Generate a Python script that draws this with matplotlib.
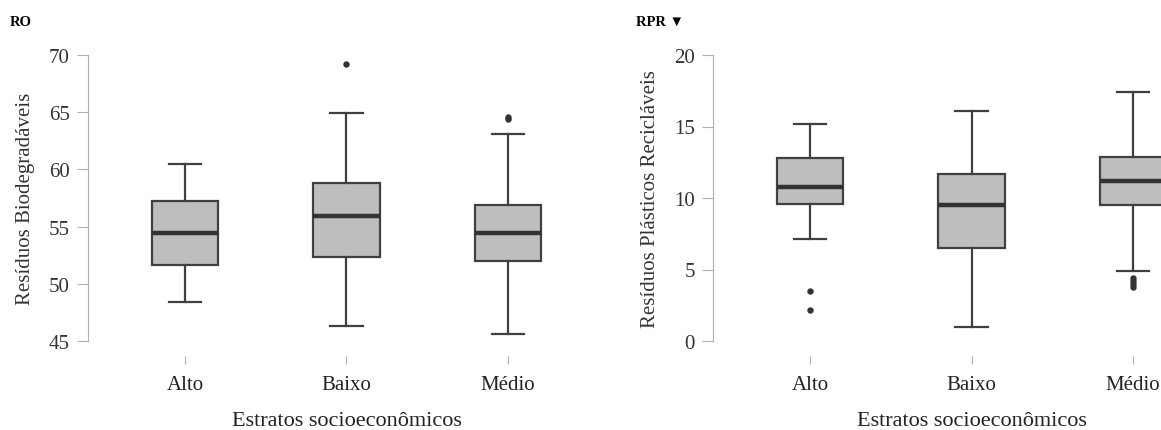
import numpy as np
import matplotlib.pyplot as plt

# estratos
categorias = ['Alto', 'Baixo', 'Médio']

# RO - residuos biodegradaveis (whislo, q1, med, q3, whishi)
ro_whislo = [48.4, 46.3, 45.6]
ro_q1 = [51.6, 52.3, 52.0]
ro_med = [54.4, 55.9, 54.4]
ro_q3 = [57.2, 58.8, 56.9]
ro_whishi = [60.5, 64.9, 63.1]
ro_fliers = [[], [69.2], [64.4, 64.6]]

# RPR - residuos plasticos reciclaveis
rpr_whislo = [7.1, 1.0, 4.9]
rpr_q1 = [9.6, 6.5, 9.5]
rpr_med = [10.8, 9.5, 11.2]
rpr_q3 = [12.8, 11.7, 12.9]
rpr_whishi = [15.2, 16.1, 17.4]
rpr_fliers = [[3.5, 2.2], [], [4.4, 4.2, 4.0, 3.8]]

serif = ['Liberation Serif', 'DejaVu Serif']
plt.rcParams['font.family'] = serif

def stats(lo, q1, med, q3, hi, fl):
    out = []
    for i in range(len(categorias)):
        out.append(dict(label=categorias[i], whislo=lo[i], q1=q1[i], med=med[i],
                        q3=q3[i], whishi=hi[i], fliers=fl[i]))
    return out

def painel(ax, st, ylim, ticks, ylabel):
    edge = '#404040'
    ax.bxp(st, positions=range(len(st)), widths=0.41, patch_artist=True,
           boxprops=dict(facecolor='#bebebe', edgecolor=edge, linewidth=1.6),
           medianprops=dict(color='#333333', linewidth=3.2),
           whiskerprops=dict(color=edge, linewidth=1.6),
           capprops=dict(color=edge, linewidth=1.6),
           capwidths=0.2,
           flierprops=dict(marker='o', markersize=3.6, markerfacecolor='#333333',
                           markeredgecolor='#333333'))
    span = ylim[1] - ylim[0]
    extra = span * 15 / 286
    ax.set_ylim(ylim[0] - extra, ylim[1])
    ax.set_xlim(-0.6, 2.6)
    ax.set_yticks(ticks)
    ax.spines['left'].set_bounds(ylim[0], ylim[1])
    ax.spines['left'].set_color('#b0b0b0')
    for s in ['top', 'right', 'bottom']:
        ax.spines[s].set_visible(False)
    ax.tick_params(axis='y', length=8, color='#b0b0b0', labelsize=15, labelcolor='#333333', pad=5)
    ax.tick_params(axis='x', length=6, color='#b0b0b0', labelsize=15, labelcolor='#222222', pad=8)
    ax.set_xticks(range(len(categorias)))
    ax.set_xticklabels(categorias)
    ax.set_ylabel(ylabel, fontsize=15, color='#333333')
    # centre the label on the drawn spine, not on the whole axes
    ymid = (extra + span / 2) / (span + extra)
    ax.yaxis.set_label_coords(-0.103, ymid)
    ax.set_xlabel('Estratos socioeconômicos', fontsize=16, color='#222222', labelpad=12)

fig = plt.figure(figsize=(11.61, 4.31), dpi=100)
ax1 = fig.add_axes([88 / 1161, 1 - 357 / 431, 517 / 1161, 301 / 431])
ax2 = fig.add_axes([713 / 1161, 1 - 357 / 431, 517 / 1161, 301 / 431])

painel(ax1, stats(ro_whislo, ro_q1, ro_med, ro_q3, ro_whishi, ro_fliers),
       (45, 70), [45, 50, 55, 60, 65, 70], 'Resíduos Biodegradáveis')
painel(ax2, stats(rpr_whislo, rpr_q1, rpr_med, rpr_q3, rpr_whishi, rpr_fliers),
       (0, 20), [0, 5, 10, 15, 20], 'Resíduos Plásticos Recicláveis')

fig.text(10 / 1161, 1 - 22 / 431, 'RO', fontsize=10.5, fontweight='bold', va='center', family=serif)
fig.text(636 / 1161, 1 - 22 / 431, 'RPR ▼', fontsize=10.5, fontweight='bold', va='center',
         family=['Liberation Serif', 'DejaVu Sans'])

fig.savefig('out.png', dpi=100)
